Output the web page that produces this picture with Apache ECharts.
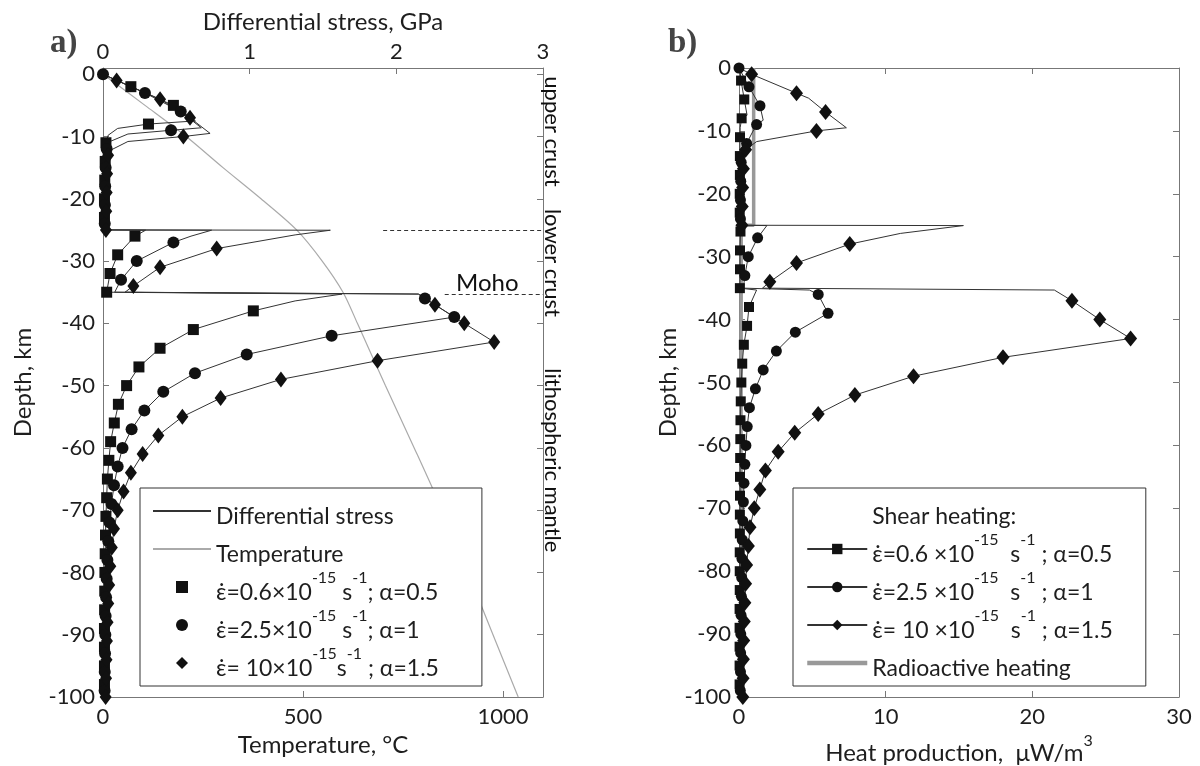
<!DOCTYPE html>
<html>
<head>
<meta charset="utf-8">
<script src="https://cdn.jsdelivr.net/npm/echarts@6/dist/echarts.min.js"></script>
<style>
  html, body { margin: 0; padding: 0; background: #fff; }
  #chart { width: 1200px; height: 766px; }
</style>
</head>
<body>
<div id="chart"></div>
<script>
// ---- data: [x, depth(km)] ----
// panel a: differential stress (GPa)
const stressSlow = [[0,0],[0.19,-2],[0.48,-5],[0.63,-7.5],[0.31,-8],[0.1,-8.7],[0.035,-9.8],[0.02,-11],[0.015,-14],[0.012,-17],[0.01,-20],[0.01,-23],[0.01,-25],
  [0.29,-25.05],[0.218,-26],[0.1,-29],[0.048,-32],[0.025,-35],
  [1.63,-35.3],[1.31,-36.4],[1.025,-38],[0.616,-41],[0.389,-44],[0.245,-47],[0.161,-50],[0.105,-53],[0.077,-56],[0.052,-59],[0.04,-62],[0.03,-65],
  [0.025,-68],[0.02,-71],[0.017,-74],[0.015,-77],[0.013,-80],[0.012,-83],[0.011,-86],[0.01,-89],[0.01,-92],[0.01,-95],[0.01,-98],[0.01,-100]];
const stressMid = [[0,0],[0.286,-3],[0.53,-6],[0.67,-8.6],[0.464,-9],[0.17,-9.6],[0.048,-10.8],[0.025,-12],[0.018,-15],[0.015,-18],[0.013,-21],[0.012,-24],[0.012,-25],
  [0.74,-25.05],[0.6,-26],[0.48,-27],[0.23,-30],[0.123,-33],[0.08,-35],
  [2.15,-35.3],[2.195,-36],[2.395,-39],[1.559,-42],[0.98,-45],[0.627,-48],[0.411,-51],[0.282,-54],[0.195,-57],[0.133,-60],[0.1,-63],[0.075,-66],
  [0.058,-69],[0.045,-72],[0.036,-75],[0.03,-78],[0.025,-81],[0.021,-84],[0.018,-87],[0.016,-90],[0.014,-93],[0.012,-96],[0.011,-99],[0.01,-100]];
const stressFast = [[0,0],[0.093,-1],[0.389,-4],[0.593,-7],[0.73,-9.5],[0.548,-10],[0.17,-10.8],[0.06,-12.1],[0.035,-13],[0.028,-16],[0.025,-19],[0.022,-22],[0.02,-25],
  [1.55,-25.05],[1.31,-25.8],[0.775,-28],[0.389,-31],[0.207,-34],[0.15,-35],
  [2.15,-35.3],[2.263,-37],[2.463,-40],[2.667,-43],[1.872,-46],[1.213,-49],[0.802,-52],[0.541,-55],[0.377,-58],[0.27,-61],[0.19,-64],[0.14,-67],
  [0.1,-70],[0.075,-73],[0.06,-76],[0.05,-79],[0.042,-82],[0.036,-85],[0.031,-88],[0.027,-91],[0.024,-94],[0.021,-97],[0.018,-100]];
// panel a: temperature (degC)
const temperature = [[0,0],[105,-5],[208,-10],[300,-15],[395,-20],[484,-25],[548,-30],[600,-35],[636,-40],[706,-50],[778,-60],[848,-70],[912,-80],[975,-90],[1038,-100]];

// panel b: heat production (uW/m3)
const heatSlow = [[0.05,0],[0.14,-2],[0.36,-5],[0.55,-7.5],[0.18,-8],[0.08,-9.5],[0.07,-11],[0.06,-14],[0.06,-17],[0.05,-20],[0.05,-23],[0.05,-25],
  [0.3,-25.05],[0.1,-26],[0.07,-29],[0.07,-32],[0.06,-35],
  [1.2,-35.3],[0.68,-38],[0.55,-41],[0.33,-44],[0.22,-47],[0.16,-50],[0.12,-53],[0.1,-56],[0.09,-59],[0.08,-62],[0.07,-65],[0.07,-68],[0.06,-71],
  [0.06,-74],[0.05,-77],[0.05,-80],[0.05,-83],[0.04,-86],[0.04,-89],[0.04,-92],[0.04,-95],[0.04,-98],[0.04,-100]];
const heatMid = [[0,0],[0.68,-3],[1.43,-6],[1.65,-8.3],[1.2,-9],[0.85,-10.5],[0.52,-12],[0.2,-13.5],[0.15,-15],[0.12,-18],[0.1,-21],[0.1,-24],[0.1,-25],
  [1.9,-25.05],[1.27,-27],[0.63,-30],[0.4,-33],[0.3,-35],
  [4.8,-35.3],[5.4,-36],[6.07,-39],[3.84,-42],[2.55,-45],[1.65,-48],[1.12,-51],[0.71,-54],[0.56,-57],[0.47,-60],[0.4,-63],[0.34,-66],[0.3,-69],
  [0.26,-72],[0.22,-75],[0.2,-78],[0.18,-81],[0.16,-84],[0.14,-87],[0.12,-90],[0.11,-93],[0.1,-96],[0.09,-99],[0.09,-100]];
const heatFast = [[0,0],[0.86,-1],[3.92,-4],[4.75,-4.8],[5.9,-7],[7.32,-9.5],[5.28,-10],[1.2,-11.7],[0.45,-13],[0.3,-16],[0.25,-19],[0.22,-22],[0.2,-25],
  [15.3,-25.05],[11.0,-26.3],[7.55,-28],[3.92,-31],[2.1,-34],[1.6,-35],
  [21.5,-35.3],[22.7,-37],[24.6,-40],[26.7,-43],[18.0,-46],[11.9,-49],[7.9,-52],[5.4,-55],[3.8,-58],[2.67,-61],[1.8,-64],[1.42,-67],
  [1.04,-70],[0.75,-73],[0.64,-76],[0.52,-79],[0.45,-82],[0.4,-85],[0.36,-88],[0.32,-91],[0.3,-94],[0.28,-97],[0.26,-100]];
const heatRadio = [[1.0,0],[1.0,-25],[0.15,-25],[0.15,-35],[0.12,-35],[0.12,-100]];

// markers sit every 3 km, each run shifted by 1 km
const markerOffset = { slow: 2, mid: 0, fast: 1 };

// annotations in panel a
const zoneNames = ['upper crust', 'lower crust', 'lithospheric mantle'];
const zoneDepths = [-9.2, -30.3, -62];
const boundaryDepths = [-25.05, -35.3];
const boundaryStart = [1.91, 2.33];
const mohoLabel = [2.62, -33.6];

const legendLabels = {
  'Differential stress': '{t|Differential stress}',
  'Temperature': '{t|Temperature}',
  sa1: '{t|\u03B5\u0307=0.6\u00D710}{s|-15}{t| s}{s|-1}{t|; \u03B1=0.5}',
  sa2: '{t|\u03B5\u0307=2.5\u00D710}{s|-15}{t| s}{s|-1}{t|; \u03B1=1}',
  sa3: '{t|\u03B5\u0307= 10\u00D710}{s|-15}{t|s}{s|-1}{t| ; \u03B1=1.5}',
  'Shear heating:': '{t|Shear heating:}',
  sb1: '{t|\u03B5\u0307=0.6 \u00D710}{s|-15}{t|  s}{s|-1}{t| ; \u03B1=0.5}',
  sb2: '{t|\u03B5\u0307=2.5 \u00D710}{s|-15}{t|  s}{s|-1}{t| ; \u03B1=1}',
  sb3: '{t|\u03B5\u0307= 10 \u00D710}{s|-15}{t|  s}{s|-1}{t| ; \u03B1=1.5}',
  'Radioactive heating': '{t|Radioactive heating}'
};

const FONT = 'Lato, "Noto Sans", "DejaVu Sans", sans-serif';
const AXIS_COLOR = '#777';
const TEXT_COLOR = '#1e1e1e';

const withMarkers = (points, offset) => points.map(p => {
  const k = -p[1];
  const on = Number.isInteger(k) && k % 3 === offset;
  return on ? { value: p } : { value: p, symbol: 'none' };
});

const axisBase = (extra) => Object.assign({
  type: 'value',
  axisLine: { show: true, onZero: false, lineStyle: { color: AXIS_COLOR, width: 1 } },
  axisTick: { show: true, inside: true, length: 6, lineStyle: { color: AXIS_COLOR } },
  splitLine: { show: false },
  nameTextStyle: { fontSize: 24, color: TEXT_COLOR, fontFamily: FONT }
}, extra);

const tickLabel = (extra) => Object.assign({
  fontSize: 22, color: TEXT_COLOR, fontFamily: FONT, margin: 8,
  formatter: v => String(v)
}, extra);

const richText = {
  t: { fontSize: 23, lineHeight: 34, verticalAlign: 'bottom', color: TEXT_COLOR, fontFamily: FONT },
  s: { fontSize: 16, lineHeight: 12, verticalAlign: 'top', color: TEXT_COLOR, fontFamily: FONT }
};

const chart = echarts.init(document.getElementById('chart'));

const option = {
  animation: false,
  backgroundColor: '#fff',
  title: [
    { text: 'a)', left: 45, top: 22, textStyle: { fontFamily: '"Liberation Serif", serif', fontWeight: 'bold', fontSize: 33, color: '#444' } },
    { text: 'b)', left: 663, top: 22, textStyle: { fontFamily: '"Liberation Serif", serif', fontWeight: 'bold', fontSize: 33, color: '#444' } }
  ],
  grid: [
    { left: 103, top: 68, width: 440, height: 629, outerBoundsMode: 'none' },
    { left: 739, top: 68, width: 440, height: 629, outerBoundsMode: 'none' }
  ],
  xAxis: [
    axisBase({ gridIndex: 0, position: 'top', min: 0, max: 3, interval: 1,
      name: 'Differential stress, GPa', nameLocation: 'middle', nameGap: 34,
      axisLabel: tickLabel({ margin: 5 }) }),
    axisBase({ gridIndex: 0, position: 'bottom', min: 0, max: 1100, interval: 500,
      name: 'Temperature, \u00B0C', nameLocation: 'middle', nameGap: 36,
      axisLabel: tickLabel({ showMaxLabel: false, margin: 9 }) }),
    axisBase({ gridIndex: 1, position: 'bottom', min: 0, max: 30, interval: 10,
      name: '{a|Heat production,  \u03BCW/m}{s|3}', nameLocation: 'middle', nameGap: 33,
      nameTextStyle: { rich: {
        a: { fontSize: 24, lineHeight: 32, verticalAlign: 'bottom', color: TEXT_COLOR, fontFamily: FONT },
        s: { fontSize: 16, lineHeight: 12, verticalAlign: 'top', color: TEXT_COLOR, fontFamily: FONT }
      } },
      axisLabel: tickLabel({ margin: 9 }) }),
    axisBase({ gridIndex: 1, position: 'top', min: 0, max: 30, interval: 10, axisLabel: { show: false } })
  ],
  yAxis: [
    axisBase({ gridIndex: 0, position: 'left', min: -100, max: 1, interval: 10,
      name: 'Depth, km', nameLocation: 'middle', nameGap: 68,
      axisLabel: tickLabel({ showMaxLabel: false }) }),
    axisBase({ gridIndex: 0, position: 'right', min: -100, max: 1, interval: 10, axisLabel: { show: false } }),
    axisBase({ gridIndex: 1, position: 'left', min: -100, max: 0, interval: 10,
      name: 'Depth, km', nameLocation: 'middle', nameGap: 54,
      axisLabel: tickLabel({}) }),
    axisBase({ gridIndex: 1, position: 'right', min: -100, max: 0, interval: 10, axisLabel: { show: false } })
  ],
  legend: [
    {
      orient: 'vertical', left: 140, top: 488, selectedMode: false,
      itemWidth: 58, itemHeight: 15, itemGap: 4, padding: [6, 43, 6, 12],
      borderColor: '#333', borderWidth: 1, borderRadius: 0, backgroundColor: '#fff',
      data: [
        { name: 'Differential stress', itemStyle: { opacity: 0 } },
        { name: 'Temperature', itemStyle: { opacity: 0 } },
        { name: 'sa1', lineStyle: { opacity: 0 } },
        { name: 'sa2', lineStyle: { opacity: 0 } },
        { name: 'sa3', lineStyle: { opacity: 0 } }
      ],
      formatter: n => legendLabels[n],
      textStyle: { fontFamily: FONT, fontSize: 23, lineHeight: 34, color: TEXT_COLOR, rich: richText }
    },
    {
      orient: 'vertical', left: 793, top: 488, selectedMode: false,
      itemWidth: 60, itemHeight: 13, itemGap: 4, padding: [6, 33, 6, 12],
      borderColor: '#333', borderWidth: 1, borderRadius: 0, backgroundColor: '#fff',
      data: [
        { name: 'Shear heating:', itemStyle: { opacity: 0 }, lineStyle: { opacity: 0 } },
        { name: 'sb1' },
        { name: 'sb2' },
        { name: 'sb3' },
        { name: 'Radioactive heating', itemStyle: { opacity: 0 }, lineStyle: { width: 4.5, color: '#999' } }
      ],
      formatter: n => legendLabels[n],
      textStyle: { fontFamily: FONT, fontSize: 23, lineHeight: 34, color: TEXT_COLOR, rich: richText }
    }
  ],
  series: [
    // ---- panel a ----
    { type: 'line', name: 'Temperature', xAxisIndex: 1, yAxisIndex: 0, data: temperature, symbol: 'none', smooth: 0.3,
      lineStyle: { color: '#aaa', width: 1.2 }, itemStyle: { color: '#aaa' }, z: 1, clip: false },
    { type: 'line', name: 'Differential stress', xAxisIndex: 0, yAxisIndex: 0, data: [], symbol: 'none',
      lineStyle: { color: '#333', width: 1 }, itemStyle: { color: '#333' } },
    { type: 'line', name: 'sa1', xAxisIndex: 0, yAxisIndex: 0, data: withMarkers(stressSlow, markerOffset.slow),
      symbol: 'rect', symbolSize: 11, lineStyle: { color: '#333', width: 1 }, itemStyle: { color: '#111' }, clip: false },
    { type: 'line', name: 'sa2', xAxisIndex: 0, yAxisIndex: 0, data: withMarkers(stressMid, markerOffset.mid),
      symbol: 'circle', symbolSize: 12, lineStyle: { color: '#333', width: 1 }, itemStyle: { color: '#111' }, clip: false },
    { type: 'line', name: 'sa3', xAxisIndex: 0, yAxisIndex: 0, data: withMarkers(stressFast, markerOffset.fast),
      symbol: 'diamond', symbolSize: [12, 16], lineStyle: { color: '#333', width: 1 }, itemStyle: { color: '#111' }, clip: false },
    { type: 'scatter', name: 'annotations', xAxisIndex: 0, yAxisIndex: 0, clip: false, symbolSize: 0,
      itemStyle: { color: 'rgba(0,0,0,0)', opacity: 1 }, silent: true,
      label: { show: true, formatter: '{b}', position: 'inside', rotate: -90, fontSize: 22, color: '#111', opacity: 1, fontFamily: FONT },
      data: zoneNames.map((n, i) => ({ name: n, value: [3.065, zoneDepths[i]] }))
        .concat([{ name: 'Moho', value: mohoLabel, label: { rotate: 0, fontSize: 24 } }]),
      markLine: {
        silent: true, symbol: ['none', 'none'], label: { show: false },
        lineStyle: { type: [4, 3], color: '#333', width: 1 },
        data: boundaryDepths.map((d, i) => [{ coord: [boundaryStart[i], d] }, { coord: [3, d] }])
      }
    },
    // ---- panel b ----
    { type: 'line', name: 'Shear heating:', xAxisIndex: 2, yAxisIndex: 2, data: [], symbol: 'none',
      lineStyle: { color: '#333', width: 1 }, itemStyle: { color: '#333' } },
    { type: 'line', name: 'Radioactive heating', xAxisIndex: 2, yAxisIndex: 2, data: heatRadio, symbol: 'none',
      lineStyle: { color: '#999', width: 3.5 }, itemStyle: { color: '#999' }, z: 1, clip: false },
    { type: 'line', name: 'sb1', xAxisIndex: 2, yAxisIndex: 2, data: withMarkers(heatSlow, markerOffset.slow),
      symbol: 'rect', symbolSize: 10, lineStyle: { color: '#333', width: 1 }, itemStyle: { color: '#111' }, clip: false },
    { type: 'line', name: 'sb2', xAxisIndex: 2, yAxisIndex: 2, data: withMarkers(heatMid, markerOffset.mid),
      symbol: 'circle', symbolSize: 11, lineStyle: { color: '#333', width: 1 }, itemStyle: { color: '#111' }, clip: false },
    { type: 'line', name: 'sb3', xAxisIndex: 2, yAxisIndex: 2, data: withMarkers(heatFast, markerOffset.fast),
      symbol: 'diamond', symbolSize: [13, 16], lineStyle: { color: '#333', width: 1 }, itemStyle: { color: '#111' }, clip: false }
  ]
};

chart.setOption(option);
</script>
</body>
</html>
